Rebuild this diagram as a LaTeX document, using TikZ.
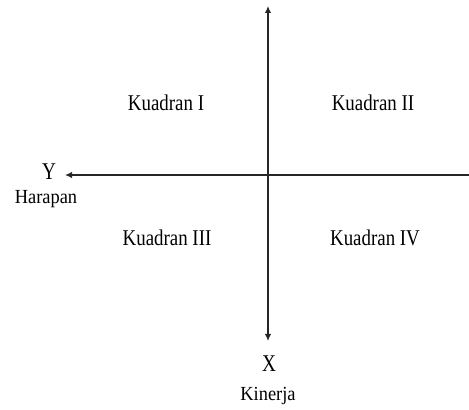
\documentclass[tikz,border=0pt]{standalone}
\usepackage{fontspec}
\setmainfont{Liberation Serif}
\usepackage{graphicx}
\usetikzlibrary{arrows.meta,positioning}

\begin{document}
\begin{tikzpicture}[
  x=1pt, y=1pt,
  axis line/.style={line width=1.5pt, draw=black!85},
  tip/.style={-{Latex[length=7pt,width=6.5pt]}},
  both tips/.style={{Latex[length=7pt,width=6.5pt]}-{Latex[length=7pt,width=6.5pt]}},
  quad/.style={font=\fontsize{22.5}{24}\selectfont, inner sep=0pt},
  axis name/.style={font=\fontsize{24}{26}\selectfont, inner sep=0pt},
  axis sub/.style={font=\fontsize{20}{22}\selectfont, inner sep=0pt}
]
\useasboundingbox (0,0) rectangle (469,410);
% ---------- axes ----------
\coordinate (org) at (268,235);
\coordinate (ytop) at (268,404);
\coordinate (ybot) at (268,69);
\coordinate (xleft) at (65,235);
\coordinate (xright) at (469,235);
\draw[axis line, both tips] (ytop) -- (ybot);
\draw[axis line, tip] (xright) -- (xleft);

% ---------- quadrants ----------
\node[quad] (q1) at (166,307.5) {\scalebox{0.84}[1]{Kuadran I}};
\node[quad] (q2) at (373,307.5) {\scalebox{0.84}[1]{Kuadran II}};
\node[quad] (q3) at (167,172) {\scalebox{0.84}[1]{Kuadran III}};
\node[quad] (q4) at (375,172) {\scalebox{0.84}[1]{Kuadran IV}};

% ---------- axis labels ----------
\node[axis name] (ylbl) at (49,238) {\scalebox{0.8}[1]{Y}};
\node[axis sub] (harapan) at (46,211) {\scalebox{0.92}[1]{Harapan}};
\node[axis name] (xlbl) at (269,46) {\scalebox{0.8}[1]{X}};
\node[axis sub] (kinerja) at (268,14) {\scalebox{0.92}[1]{Kinerja}};
\end{tikzpicture}
\end{document}
